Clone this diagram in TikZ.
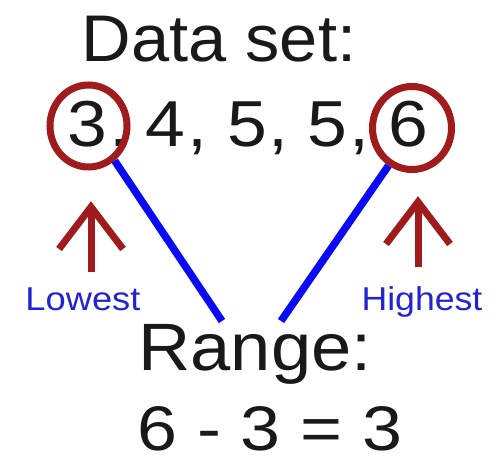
\documentclass[tikz,border=0pt]{standalone}
\usepackage{fontspec}
\setmainfont{Liberation Sans}
\usepackage{graphicx}
\usetikzlibrary{calc,shapes.geometric}
\definecolor{darkred}{RGB}{160,28,28}
\definecolor{lineblue}{RGB}{10,10,245}
\definecolor{textblue}{RGB}{35,35,210}
\newcommand{\wide}[1]{\scalebox{1.1}[1]{#1}}
\tikzset{
  big/.style={inner sep=0pt, anchor=base, font=\fontsize{65}{72}\selectfont, text=black!90},
  label/.style={inner sep=0pt, anchor=base, font=\fontsize{33}{36}\selectfont, text=textblue},
  ring/.style={ellipse, draw=darkred, line width=7pt, inner sep=0pt},
  connector/.style={draw=lineblue, line width=7.5pt},
  uparrow/.style={draw=darkred, line width=7pt, line join=miter}
}
\begin{document}
\begin{tikzpicture}[x=1pt,y=-1pt]
\useasboundingbox (0,0) rectangle (497,462);
% title
\node[big, font=\fontsize{66}{70}\selectfont] (title) at (219,62) {\scalebox{1.04}[1]{Data set:}};
% data values
\node[big] (d3) at (87,147) {\wide{3}};
\node[big] (k1) at (119,147) {\wide{,}};
\node[big] (d4) at (165,147) {\wide{4}};
\node[big] (k2) at (197,147) {\wide{,}};
\node[big] (d5a) at (247,147) {\wide{5}};
\node[big] (k3) at (278,147) {\wide{,}};
\node[big] (d5b) at (327,147) {\wide{5}};
\node[big] (k4) at (359,147) {\wide{,}};
\node[big] (d6) at (408,147) {\wide{6}};
% rings
\node[ring, minimum width=77pt, minimum height=82pt] (r3) at (88.5,126) {};
\node[ring, minimum width=79pt, minimum height=83pt] (r6) at (412,128) {};
% range
\node[big, font=\fontsize{67}{72}\selectfont] (range) at (255,370) {\scalebox{1.08}[1]{Range:}};
\node[big, font=\fontsize{63}{70}\selectfont] (calc) at (270,450) {\scalebox{1.14}[1]{6 - 3 = 3}};
% labels
\node[label] (low) at (83,310) {\scalebox{1.1}[1]{Lowest}};
\node[label] (high) at (422,310) {\scalebox{1.08}[1]{Highest}};
% connectors
\coordinate (rl) at (222,321);
\coordinate (rr) at (281,321);
\draw[connector] (r3.-53) -- (rl);
\draw[connector] (r6.-122) -- (rr);
% arrows
\coordinate (la0) at (91,272);
\coordinate (la1) at (91,207);
\coordinate (ra0) at (418,267);
\coordinate (ra1) at (418,202);
\draw[uparrow] (la0) -- (la1);
\draw[uparrow] ($(la1)+(-32,42)$) -- (la1) -- ($(la1)+(32,42)$);
\draw[uparrow] (ra0) -- (ra1);
\draw[uparrow] ($(ra1)+(-32,42)$) -- (ra1) -- ($(ra1)+(32,42)$);
\end{tikzpicture}
\end{document}
